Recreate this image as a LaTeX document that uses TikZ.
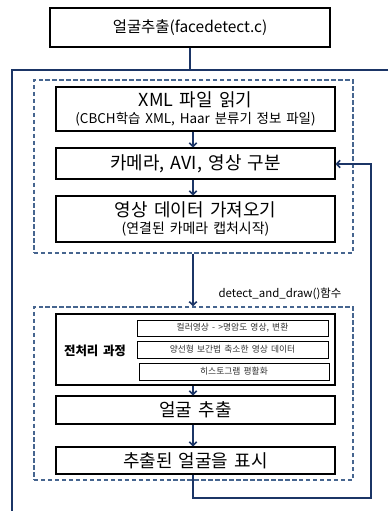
\documentclass[tikz,border=0pt]{standalone}
\usepackage{fontspec}
\setmainfont[WordSpace=1.6]{Noto Sans CJK KR}
\usetikzlibrary{arrows.meta}
\definecolor{navy}{HTML}{1B3566}
\definecolor{dashblue}{HTML}{46658F}
\tikzset{
  box/.style={draw=black, line width=1.1pt, fill=white, inner sep=0pt, align=center},
  subbox/.style={draw=black, line width=0.9pt, fill=white, inner sep=0pt, align=center, font=\fontsize{8.8}{10}\selectfont, text=black!80},
  dbox/.style={draw=dashblue, line width=1.5pt, dash pattern=on 4.5pt off 2.5pt, inner sep=0pt},
  conn/.style={draw=navy, line width=1.8pt},
  arr/.style={conn, -{Straight Barb[length=3.5pt,width=7.5pt,line width=1.6pt]}},
  big/.style={font=\fontsize{18}{20}\selectfont},
}
\begin{document}
\begin{tikzpicture}[x=1bp,y=-1bp]
\useasboundingbox (0,0) rectangle (388,511);
% dashed groups
\node[dbox, minimum width=319bp, minimum height=173bp] (d1) at (193.5,166.5) {};
\node[dbox, minimum width=319bp, minimum height=173bp] (d2) at (193.5,393.5) {};
% boxes
\node[box, minimum width=280bp, minimum height=39bp, font=\fontsize{15.5}{18}\selectfont] (top) at (190,27.5) {얼굴추출(facedetect.c)};
\node[box, minimum width=279bp, minimum height=44bp] (b1) at (195.5,109)
  {{\fontsize{18}{18}\selectfont XML 파일 읽기}\\[3pt]{\fontsize{13.5}{14}\selectfont (CBCH학습 XML, Haar 분류기 정보 파일)}};
\node[box, big, minimum width=279bp, minimum height=31bp] (b2) at (195.5,163.5) {카메라, AVI, 영상 구분};
\node[box, minimum width=279bp, minimum height=46bp] (b3) at (195.5,219)
  {{\fontsize{18}{18}\selectfont 영상 데이터 가져오기}\\[3pt]{\fontsize{14}{14}\selectfont (연결된 카메라 캡처시작)}};
\node[box, minimum width=279bp, minimum height=71bp] (prep) at (195.5,349.5) {};
\node[font=\bfseries\fontsize{12.5}{14}\selectfont] (preplab) at (95,351) {전처리 과정};
\node[subbox, minimum width=191bp, minimum height=16bp] (s1) at (232.5,328) {컬러영상 - >명암도 영상, 변환};
\node[subbox, minimum width=191bp, minimum height=17bp] (s2) at (232.5,349.5) {양선형 보간법 축소한 영상 데이터};
\node[subbox, minimum width=190bp, minimum height=17bp] (s3) at (234,371.5) {히스토그램 평활화};
\node[box, big, minimum width=279bp, minimum height=28bp] (b4) at (195.5,410) {얼굴 추출};
\node[box, big, minimum width=279bp, minimum height=27bp] (b5) at (195.5,460.5) {추출된 얼굴을 표시};
\node[font=\fontsize{11.5}{13}\selectfont, anchor=center] (fn) at (280,294) {detect\_and\_draw()함수};
% coordinates
\coordinate (ax) at (193,0);
\coordinate (j) at (190,70);
\coordinate (lt) at (12,70);
\coordinate (rt) at (388,70);
\coordinate (lb) at (12,511);
\coordinate (lp1) at (193,498);
\coordinate (lp2) at (371,498);
\coordinate (lp3) at (371,164);
% connectors
\draw[conn] (top.south) -- (j);
\draw[conn] (rt) -- (lt) -- (lb);
\draw[arr] (b1.south -| ax) -- (b2.north -| ax);
\draw[arr] (b2.south -| ax) -- (b3.north -| ax);
\draw[arr] (d1.south -| ax) -- (d2.north -| ax);
\draw[arr] (prep.south -| ax) -- (b4.north -| ax);
\draw[arr] (b4.south -| ax) -- (b5.north -| ax);
\draw[arr] (b5.south -| ax) -- (lp1) -- (lp2) -- (lp3) -- (b2.east |- lp3);
\end{tikzpicture}
\end{document}
